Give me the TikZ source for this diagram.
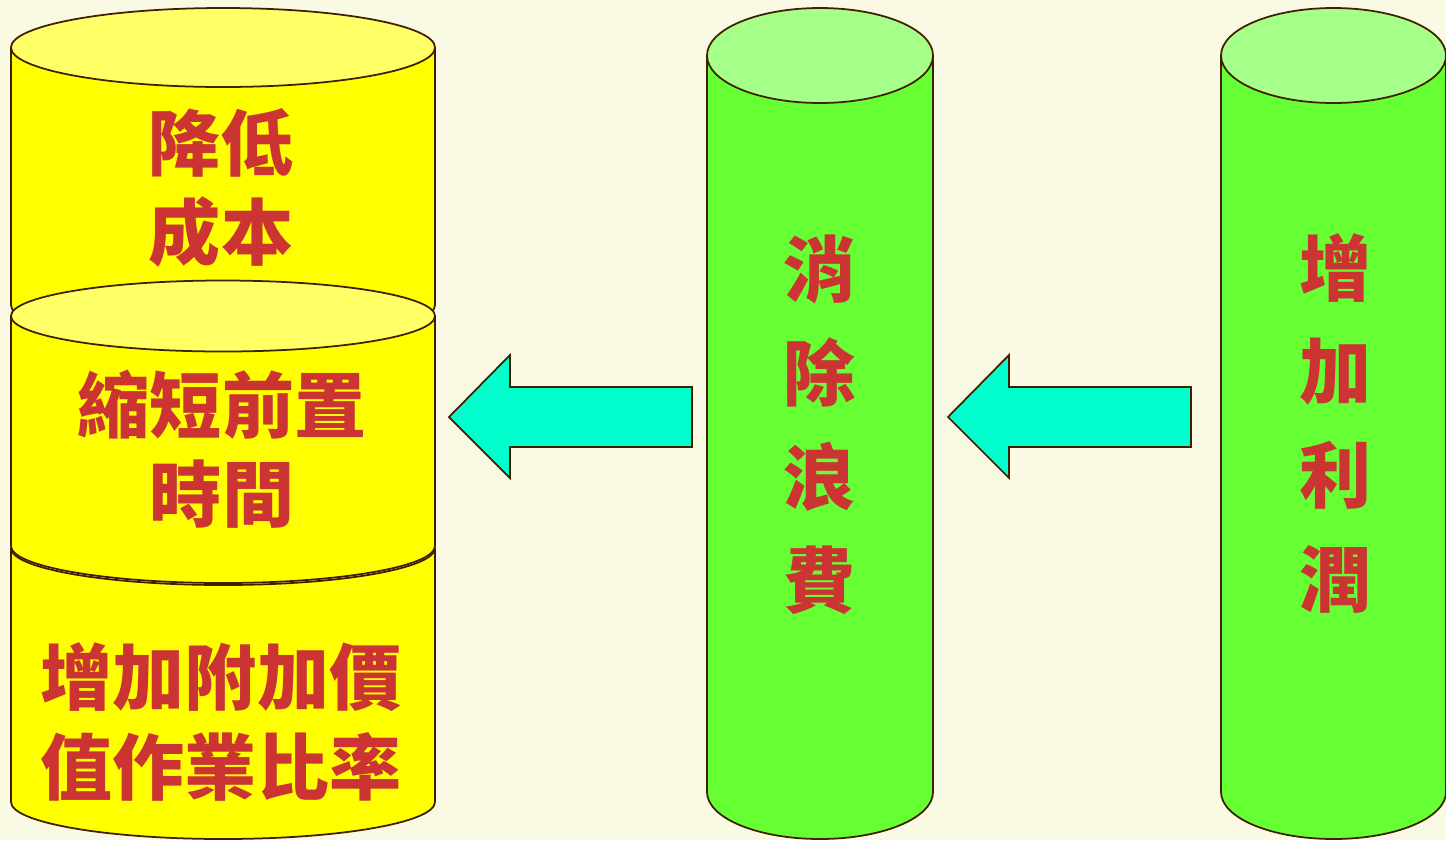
\documentclass[tikz,border=0pt]{standalone}
\usepackage{fontspec}
\newfontfamily\cjk{Noto Sans CJK TC}
\usetikzlibrary{positioning}
\definecolor{paper}{RGB}{250,250,228}
\definecolor{rim}{RGB}{64,32,0}
\definecolor{yellowbody}{RGB}{255,255,0}
\definecolor{yellowtop}{RGB}{255,255,102}
\definecolor{greenbody}{RGB}{102,255,51}
\definecolor{greentop}{RGB}{166,255,136}
\definecolor{arrowfill}{RGB}{0,255,204}
\definecolor{inkred}{RGB}{204,51,51}

\begin{document}
\begin{tikzpicture}[x={(0.02cm,0)},y={(0,-0.02cm)},
  wall/.style={draw=rim, line width=1pt, line join=round},
  blockarrow/.style={draw=rim, line width=1pt, fill=arrowfill, line join=miter},
  lbl/.style={text=inkred, align=center, font=\cjk\bfseries\fontsize{41}{51}\selectfont},
  vlbl/.style={text=inkred, align=center, font=\cjk\bfseries\fontsize{41}{59}\selectfont}]
% background
\fill[paper] (0,0) rectangle (1446,840);
\useasboundingbox (0,0) rectangle (1446,840);
% left stack: top segment
\filldraw[wall, fill=yellowbody] (11,47.5) -- (11,305) arc[start angle=180, end angle=0, x radius=212, y radius=39.5] -- (435,47.5) -- cycle;
\filldraw[wall, fill=yellowtop] (223,47.5) ellipse[x radius=212, y radius=39.5];
% left stack: bottom segment
\filldraw[wall, fill=yellowbody] (11,548) -- (11,802) arc[start angle=180, end angle=0, x radius=212, y radius=37] -- (435,548) arc[start angle=0, end angle=180, x radius=212, y radius=37] -- cycle;
% left stack: middle segment
\filldraw[wall, fill=yellowbody] (11,316) -- (11,546) arc[start angle=180, end angle=0, x radius=212, y radius=37] -- (435,316) -- cycle;
\filldraw[wall, fill=yellowtop] (223,316) ellipse[x radius=212, y radius=35.5];
% green columns
\filldraw[wall, fill=greenbody] (707,55.5) -- (707,792) arc[start angle=180, end angle=0, x radius=113, y radius=47] -- (933,55.5) -- cycle;
\filldraw[wall, fill=greentop] (820,55.5) ellipse[x radius=113, y radius=47.5];
\filldraw[wall, fill=greenbody] (1221,55.5) -- (1221,792) arc[start angle=180, end angle=0, x radius=112.5, y radius=47] -- (1446,55.5) -- cycle;
\filldraw[wall, fill=greentop] (1333.5,55.5) ellipse[x radius=112.5, y radius=47.5];
% block arrows
\filldraw[blockarrow] (449,417) -- (510,355) -- (510,387) -- (692,387) -- (692,447) -- (510,447) -- (510,478) -- cycle;
\filldraw[blockarrow] (948,417) -- (1009,355) -- (1009,387) -- (1191,387) -- (1191,447) -- (1009,447) -- (1009,478) -- cycle;
% labels
\node[lbl] (cost) at (221,188) {降低\\成本};
\node[lbl] (lead) at (222,449) {縮短前置\\時間};
\node[lbl] (ratio) at (221,722) {增加附加價\\值作業比率};
\node[vlbl] (waste) at (820,425) {消\\除\\浪\\費};
\node[vlbl] (profit) at (1335,423) {增\\加\\利\\潤};
\end{tikzpicture}
\end{document}
